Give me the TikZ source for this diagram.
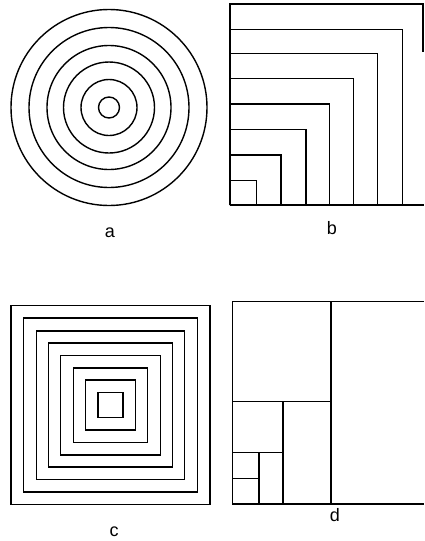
\documentclass[tikz,border=0pt]{standalone}
\usepackage{fontspec}
\setmainfont{Liberation Sans}
\begin{document}
\begin{tikzpicture}[x=1pt,y=-1pt,line width=1.4pt,line join=miter,
  lbl/.style={font=\fontsize{18}{18}\selectfont,inner sep=0pt,anchor=base}]
\useasboundingbox (0,0) rectangle (424,541);
\begin{scope}
\clip (0,0) rectangle (424,541);
% panel a: concentric circles
\coordinate (ca) at (109,107.5);
\foreach \r in {98,80,62,45.5,28,10.5}
  \draw (ca) circle[radius=\r pt];
% panel b: nested squares sharing the lower-left corner
\coordinate (cb) at (230,205);
\foreach \rx/\ty in {256.3/180.3,281/155,306/129.3,329.3/104,353.7/78.7,377.7/53.3,402.7/29.3}
  \draw (230,205) -- (230,\ty) -- (\rx,\ty) -- (\rx,205);
\draw (230,205) -- (230,4) -- (424,4);
\draw (423,4) -- (423,52);
\draw (230,205) -- (424,205);
% panel c: concentric squares
\coordinate (cc) at (110.5,405);
\foreach \h in {12.4,25,37.2,49.8,62,74.2,87,99.5}
  \draw ([shift={(-\h,-\h)}]cc) rectangle ([shift={(\h,\h)}]cc);
% panel d: recursive halving
\draw (424,301.5) -- (232.5,301.5) -- (232.5,504) -- (424,504);
\draw (331,301.5) -- (331,504);
\draw (232.5,401.7) -- (331,401.7);
\draw (283,401.7) -- (283,504);
\draw (232.5,452.7) -- (283,452.7);
\draw (259,452.7) -- (259,504);
\draw (232.5,478.3) -- (259,478.3);
\end{scope}
% labels
\node[lbl] (la) at (110,237) {a};
\node[lbl] (lb) at (332,234) {b};
\node[lbl] (lc) at (114,536) {c};
\node[lbl] (ld) at (335,521) {d};
\end{tikzpicture}
\end{document}
